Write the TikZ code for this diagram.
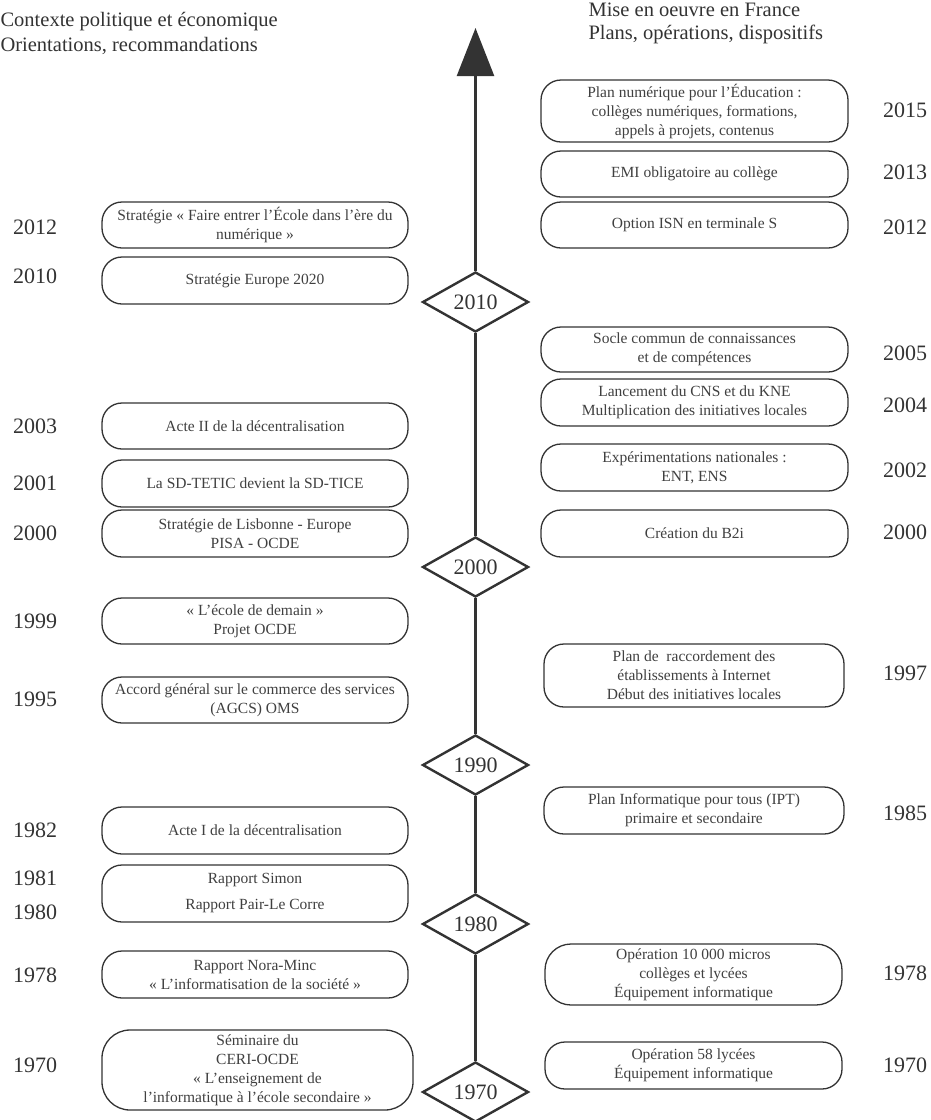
\documentclass[tikz,border=0pt]{standalone}
\usepackage{fontspec}
\setmainfont{Liberation Serif}
\usetikzlibrary{shapes.geometric,arrows.meta}
\definecolor{ink}{HTML}{333333}
\definecolor{txt}{HTML}{404040}
\begin{document}
\begin{tikzpicture}[x=1pt,y=-1pt,
  evbox/.style={draw=ink, line width=1.3pt, rounded corners=20pt, fill=white,
    text=txt, align=center, inner sep=2pt,
    font=\fontsize{15.5}{19}\selectfont},
  lbox/.style={evbox, minimum width=306pt},
  rbox/.style={evbox, minimum width=307pt},
  yr/.style={text=ink, font=\fontsize{22}{24}\selectfont},
  dec/.style={draw=ink, line width=2.4pt, fill=white, shape=diamond,
    shape aspect=1.77, minimum width=106pt, minimum height=60pt, inner sep=0pt,
    text=ink, font=\fontsize{22}{24}\selectfont},
  hdr/.style={text=ink, align=left, font=\fontsize{20.5}{25}\selectfont},
  axis/.style={draw=ink, line width=2.4pt}
]
\useasboundingbox (0,0) rectangle (931,1120);

% headers
\node[hdr, anchor=west] (hl) at (-3,33.5) {Contexte politique et économique\\Orientations, recommandations};
\node[hdr, anchor=west, font=\fontsize{20.5}{23}\selectfont] (hr) at (585,23.5) {Mise en oeuvre en France\\Plans, opérations, dispositifs};

% axis
\coordinate (top) at (475.5,28);
\node[dec] (d2010) at (475.5,302) {2010};
\node[dec] (d2000) at (475.5,567) {2000};
\node[dec] (d1990) at (475.5,765) {1990};
\node[dec] (d1980) at (475.5,924) {1980};
\node[dec] (d1970) at (475.5,1092) {1970};
\begin{scope}[on background layer/.try]
\end{scope}
\draw[axis] (d1970.north) -- (d1980.south);
\draw[axis] (d1980.north) -- (d1990.south);
\draw[axis] (d1990.north) -- (d2000.south);
\draw[axis] (d2000.north) -- (d2010.south);
\draw[axis, -{Triangle[width=37pt,length=48pt]}] (d2010.north) -- (top);

% left boxes
\node[lbox, minimum height=46pt] (l2012) at (255,225) {Stratégie « Faire entrer l’École dans l’ère du\\numérique »};
\node[lbox, minimum height=47pt] (l2010) at (255,280.5) {Stratégie Europe 2020};
\node[lbox, minimum height=46pt] (l2003) at (255,426) {Acte II de la décentralisation};
\node[lbox, minimum height=47pt] (l2001) at (255,483.5) {La SD-TETIC devient la SD-TICE};
\node[lbox, minimum height=47pt] (l2000) at (255,533.5) {Stratégie de Lisbonne - Europe\\PISA - OCDE};
\node[lbox, minimum height=46pt] (l1999) at (255,621) {« L’école de demain »\\Projet OCDE};
\node[lbox, minimum height=46pt] (l1995) at (255,700) {Accord général sur le commerce des services\\(AGCS) OMS};
\node[lbox, minimum height=47pt] (l1982) at (255,830.5) {Acte I de la décentralisation};
\node[lbox, minimum height=57pt, font=\fontsize{15.5}{26}\selectfont] (l1981) at (255,893.5) {Rapport Simon\\Rapport Pair-Le Corre};
\node[lbox, minimum height=47pt] (l1978) at (255,974.5) {Rapport Nora-Minc\\« L’informatisation de la société »};
\node[lbox, minimum height=80pt, minimum width=311pt, rounded corners=28pt] (l1970) at (257.5,1070) {Séminaire du\\CERI-OCDE\\« L’enseignement de\\l’informatique à l’école secondaire »};

% left years
\node[yr] (yl2012) at (35,227) {2012};
\node[yr] (yl2010) at (35,276) {2010};
\node[yr] (yl2003) at (35,426) {2003};
\node[yr] (yl2001) at (35,483) {2001};
\node[yr] (yl2000) at (35,533) {2000};
\node[yr] (yl1999) at (35,621) {1999};
\node[yr] (yl1995) at (35,699) {1995};
\node[yr] (yl1982) at (35,830) {1982};
\node[yr] (yl1981) at (35,878) {1981};
\node[yr] (yl1980) at (35,912) {1980};
\node[yr] (yl1978) at (35,975) {1978};
\node[yr] (yl1970) at (35,1065) {1970};

% right boxes
\node[rbox, minimum height=62pt] (r2015) at (694.5,111) {Plan numérique pour l’Éducation :\\collèges numériques, formations,\\appels à projets, contenus};
\node[rbox, minimum height=46pt] (r2013) at (694.5,174) {EMI obligatoire au collège};
\node[rbox, minimum height=46pt] (r2012) at (694.5,225) {Option ISN en terminale S};
\node[rbox, minimum height=45pt] (r2005) at (694.5,349.5) {Socle commun de connaissances\\et de compétences};
\node[rbox, minimum height=47pt] (r2004) at (694.5,402.5) {Lancement du CNS et du KNE\\Multiplication des initiatives locales};
\node[rbox, minimum height=47pt] (r2002) at (694.5,467.5) {Expérimentations nationales :\\ENT, ENS};
\node[rbox, minimum height=47pt] (r2000) at (694.5,533.5) {Création du B2i};
\node[rbox, minimum height=63pt, minimum width=300pt] (r1997) at (694,675.5) {Plan de \ raccordement des\\établissements à Internet\\Début des initiatives locales};
\node[rbox, minimum height=47pt, minimum width=300pt] (r1985) at (694,810.5) {Plan Informatique pour tous (IPT)\\primaire et secondaire};
\node[rbox, minimum height=61pt, minimum width=297pt, rounded corners=26pt] (r1978) at (693.5,974.5) {Opération 10 000 micros\\collèges et lycées\\Équipement informatique};
\node[rbox, minimum height=47pt, minimum width=297pt] (r1970) at (693.5,1065.5) {Opération 58 lycées\\Équipement informatique};

% right years
\node[yr] (yr2015) at (905,110) {2015};
\node[yr] (yr2013) at (905,172) {2013};
\node[yr] (yr2012) at (905,227) {2012};
\node[yr] (yr2005) at (905,353) {2005};
\node[yr] (yr2004) at (905,405) {2004};
\node[yr] (yr2002) at (905,470) {2002};
\node[yr] (yr2000) at (905,532) {2000};
\node[yr] (yr1997) at (905,673) {1997};
\node[yr] (yr1985) at (905,813) {1985};
\node[yr] (yr1978) at (905,973) {1978};
\node[yr] (yr1970) at (905,1065) {1970};
\end{tikzpicture}
\end{document}
